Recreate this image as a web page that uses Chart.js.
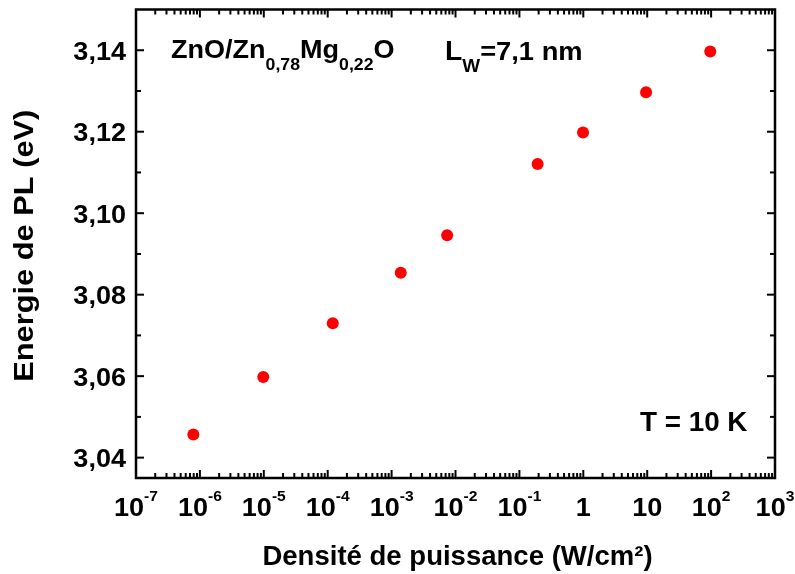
<!DOCTYPE html>
<html><head><meta charset="utf-8">
<script src="https://cdn.jsdelivr.net/npm/chart.js@4/dist/chart.umd.min.js"></script>
<style>html,body{margin:0;padding:0;background:#fff}canvas{display:block}</style>
</head><body>
<canvas id="c" width="795" height="574"></canvas>
<script>
// ---- data ----
const powerDensity = [7.9e-7, 9.8e-6, 1.2e-4, 1.39e-3, 7.4e-3, 0.193, 0.99, 9.6, 97];
const peakEnergy   = [3.0457, 3.0598, 3.0730, 3.0854, 3.0946, 3.1121, 3.1198, 3.1297, 3.1397];
const xDecades     = [1e-7, 1e-6, 1e-5, 1e-4, 1e-3, 1e-2, 1e-1, 1, 10, 100, 1000];
const xTickBase    = ['10','10','10','10','10','10','10','1','10','10','10'];
const xTickExp     = ['-7','-6','-5','-4','-3','-2','-1','','','2','3'];
const yMajorTicks  = [3.04, 3.06, 3.08, 3.10, 3.12, 3.14];
const yMinorTicks  = [3.05, 3.07, 3.09, 3.11, 3.13];
const yTickLabels  = ['3,04','3,06','3,08','3,10','3,12','3,14'];
const xTitle = 'Densité de puissance (W/cm²)';
const yTitle = 'Energie de PL (eV)';

const FAM = 'Arial, "Liberation Sans", Helvetica, sans-serif';
const f = s => 'bold ' + s + 'px ' + FAM;

function drawRich(ctx, segs, x, y, sx, align) {
  let total = 0;
  segs.forEach(s => { ctx.font = f(s.size); total += ctx.measureText(s.t).width * sx; });
  let cur = align === 'center' ? x - total / 2 : align === 'right' ? x - total : x;
  segs.forEach(s => {
    ctx.font = f(s.size);
    ctx.save();
    ctx.translate(cur, y + (s.dy || 0));
    ctx.scale(sx, 1);
    ctx.textAlign = 'left';
    ctx.textBaseline = 'alphabetic';
    ctx.fillText(s.t, 0, 0);
    ctx.restore();
    cur += ctx.measureText(s.t).width * sx;
  });
}

const frameAndText = {
  id: 'frameAndText',
  afterDraw(chart) {
    const ctx = chart.ctx, a = chart.chartArea;
    const xs = chart.scales.x, ys = chart.scales.y;
    ctx.save();
    ctx.strokeStyle = '#000'; ctx.fillStyle = '#000';
    ctx.lineWidth = 2;
    ctx.lineCap = 'butt';
    const tick = (x1, y1, x2, y2) => { ctx.beginPath(); ctx.moveTo(x1, y1); ctx.lineTo(x2, y2); ctx.stroke(); };
    const MAJ = 8, MIN = 5;
    xDecades.forEach((d, i) => {
      const px = xs.getPixelForValue(d);
      tick(px, a.bottom, px, a.bottom - MAJ);
      tick(px, a.top, px, a.top + MAJ);
      if (i < xDecades.length - 1) {
        for (let m = 2; m <= 9; m++) {
          const p = xs.getPixelForValue(m * d);
          tick(p, a.bottom, p, a.bottom - MIN);
          tick(p, a.top, p, a.top + MIN);
        }
      }
    });
    yMajorTicks.forEach(v => {
      const py = ys.getPixelForValue(v);
      tick(a.left, py, a.left + MAJ, py);
      tick(a.right, py, a.right - MAJ, py);
    });
    yMinorTicks.forEach(v => {
      const py = ys.getPixelForValue(v);
      tick(a.left, py, a.left + MIN, py);
      tick(a.right, py, a.right - MIN, py);
    });
    ctx.lineWidth = 2.5;
    ctx.strokeRect(a.left, a.top, a.right - a.left, a.bottom - a.top);

    yMajorTicks.forEach((v, i) => {
      const py = ys.getPixelForValue(v);
      drawRich(ctx, [{t: yTickLabels[i], size: 26}], a.left - 10, py + 9.5, 1.04, 'right');
    });
    xDecades.forEach((d, i) => {
      const px = xs.getPixelForValue(d);
      const segs = [{t: xTickBase[i], size: 26}];
      if (xTickExp[i]) segs.push({t: xTickExp[i], size: 15, dy: -15});
      drawRich(ctx, segs, px, 516, 1.04, 'center');
    });
    drawRich(ctx, [{t: xTitle, size: 27}], (a.left + a.right) / 2 + 2, 565, 1.02, 'center');
    ctx.save();
    ctx.translate(33, (a.top + a.bottom) / 2 + 2);
    ctx.rotate(-Math.PI / 2);
    drawRich(ctx, [{t: yTitle, size: 28}], 0, 0, 1.10, 'center');
    ctx.restore();

    drawRich(ctx, [
      {t: 'ZnO/Zn', size: 26}, {t: '0,78', size: 17, dy: 12},
      {t: 'Mg', size: 26}, {t: '0,22', size: 17, dy: 12}, {t: 'O', size: 26}
    ], 171, 58, 1.04, 'left');
    drawRich(ctx, [
      {t: 'L', size: 27}, {t: 'W', size: 18, dy: 12}, {t: '=7,1 nm', size: 26}
    ], 445, 60, 1.05, 'left');
    drawRich(ctx, [{t: 'T = 10 K', size: 27}], 640, 431, 1.03, 'left');
    ctx.restore();
  }
};

new Chart(document.getElementById('c'), {
  type: 'scatter',
  data: {
    datasets: [{
      data: powerDensity.map((x, i) => ({x, y: peakEnergy[i]})),
      backgroundColor: '#ff0000',
      borderWidth: 0,
      pointRadius: 6,
      pointHoverRadius: 6
    }]
  },
  options: {
    responsive: false,
    animation: false,
    events: [],
    layout: { padding: { left: 136, right: 20, top: 9.5, bottom: 96 } },
    plugins: { legend: { display: false }, tooltip: { enabled: false } },
    scales: {
      x: { type: 'logarithmic', min: 1e-7, max: 1e3, display: false },
      y: { type: 'linear', min: 3.035, max: 3.15, display: false }
    }
  },
  plugins: [frameAndText]
});
</script>
</body></html>
